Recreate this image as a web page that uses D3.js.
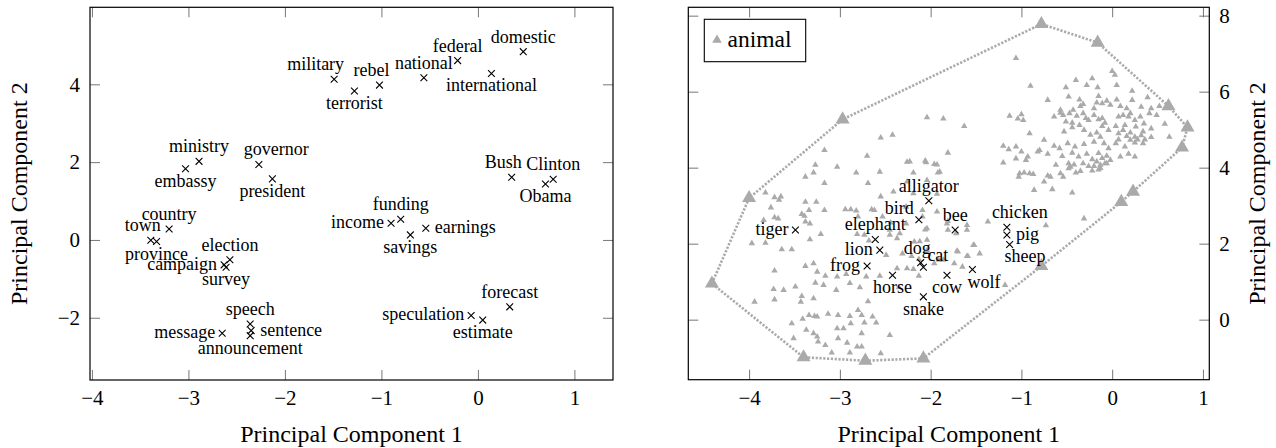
<!DOCTYPE html>
<html>
<head>
<meta charset="utf-8">
<script src="https://cdn.jsdelivr.net/npm/d3@7"></script>
<style>
  body { margin: 0; background: #fff; }
  svg text { font-family: "Liberation Serif", "DejaVu Serif", serif !important; }
</style>
</head>
<body>
<svg id="chart" width="1276" height="448" font-family="Liberation Serif, DejaVu Serif, serif"></svg>
<script>
// ---- left panel: words ----
const words = ["military", "terrorist", "rebel", "national", "federal", "international", "domestic",
  "ministry", "embassy", "governor", "president", "Bush", "Clinton", "Obama",
  "country", "town", "province", "election", "campaign", "survey",
  "funding", "income", "earnings", "savings",
  "speech", "sentence", "announcement", "message",
  "forecast", "speculation", "estimate"];
const wordPC1 = [-1.49, -1.28, -1.02, -0.56, -0.21, 0.14, 0.47,
  -2.89, -3.03, -2.27, -2.13, 0.35, 0.78, 0.70,
  -3.20, -3.39, -3.33, -2.57, -2.63, -2.61,
  -0.80, -0.90, -0.54, -0.70,
  -2.36, -2.35, -2.36, -2.65,
  0.33, -0.07, 0.05];
const wordPC2 = [4.13, 3.83, 3.98, 4.17, 4.61, 4.28, 4.84,
  2.02, 1.83, 1.94, 1.57, 1.61, 1.56, 1.44,
  0.28, -0.01, -0.04, -0.51, -0.64, -0.70,
  0.53, 0.43, 0.30, 0.13,
  -2.16, -2.33, -2.46, -2.40,
  -1.72, -1.94, -2.06];
const wordLabelPos = ["nw", "s", "nw", "n", "n", "s", "n",
  "n", "s", "ne", "s", "nw", "n", "s",
  "n", "nw", "s", "n", "w", "s",
  "n", "w", "e", "s",
  "n", "e", "s", "w",
  "n", "w", "s"];

// ---- right panel: animals ----
const animals = ["tiger", "alligator", "bird", "elephant", "bee", "lion", "dog", "cat",
  "frog", "horse", "cow", "wolf", "snake", "chicken", "pig", "sheep"];
const animalPC1 = [-3.49, -2.02, -2.13, -2.61, -1.73, -2.56, -2.11, -2.08,
  -2.70, -2.42, -1.82, -1.54, -2.08, -1.16, -1.16, -1.13];
const animalPC2 = [2.36, 3.13, 2.63, 2.11, 2.36, 1.83, 1.50, 1.38,
  1.41, 1.17, 1.17, 1.32, 0.60, 2.43, 2.23, 1.98];
const animalLabelPos = ["w", "n", "wnw", "n", "n", "w", "nw", "ene",
  "w", "s", "s", "se", "s", "ne", "e", "se"];

// vertices of the dotted hull (drawn as large triangles)
const hullPoints = [[-4.41, 0.95], [-4.00, 3.20], [-2.97, 5.27], [-0.78, 7.78], [-0.16, 7.29],
  [0.62, 5.62], [0.83, 5.06], [0.77, 4.53], [0.23, 3.37], [0.10, 3.10], [-0.78, 1.41],
  [-2.08, -1.02], [-2.72, -1.08], [-3.40, -0.99]];

// other words of the "animal" class (small grey triangles)
const animalCloud = [
  [-1.06, 6.88], [-0.90, 6.15], [0.00, 6.54], [0.03, 6.44], [-0.40, 6.30], [-0.22, 6.35], [-0.51, 6.11],
  [-0.28, 6.17], [-0.16, 6.11], [0.05, 6.17], [0.22, 6.02], [-0.48, 5.87], [-0.36, 5.79], [-0.15, 5.88],
  [0.05, 5.79], [0.22, 5.78], [0.39, 5.85], [-0.71, 5.78], [-0.57, 5.52], [-0.43, 5.52], [-0.35, 5.62],
  [-0.32, 5.67], [-0.20, 5.56], [-0.17, 5.71], [-0.11, 5.69], [-0.06, 5.76], [-0.02, 5.65], [0.09, 5.62],
  [0.16, 5.56], [0.32, 5.60], [0.43, 5.56], [0.52, 5.62], [0.49, 5.38], [0.58, 5.15], [-1.13, 5.36],
  [-1.04, 5.29], [-1.00, 5.40], [-0.98, 5.25], [-0.64, 5.34], [-0.57, 5.44], [-0.54, 5.38], [-0.47, 5.43],
  [-0.39, 5.36], [-0.32, 5.43], [-0.29, 5.30], [-0.26, 5.25], [-0.20, 5.38], [-0.15, 5.27], [-0.11, 5.30],
  [-0.08, 5.18], [0.07, 5.34], [0.12, 5.38], [0.18, 5.34], [0.20, 5.43], [0.25, 5.25], [0.31, 5.34],
  [0.35, 5.16], [0.41, 5.43], [-0.51, 5.21], [-0.44, 5.18], [-0.36, 5.12], [-0.11, 5.09], [0.04, 5.09],
  [0.14, 5.12], [0.26, 5.08], [0.34, 4.95], [0.43, 5.03], [-0.91, 4.90], [-0.53, 4.95], [-0.44, 5.06],
  [-0.31, 4.99], [-0.24, 4.86], [-0.17, 4.92], [-0.13, 4.81], [-0.04, 4.99], [0.07, 4.90], [0.12, 4.99],
  [0.16, 4.83], [0.20, 4.92], [0.25, 4.81], [0.32, 4.85], [0.36, 4.74], [0.43, 4.80], [0.20, 4.73],
  [0.25, 4.66], [0.28, 4.74], [0.34, 4.64], [0.63, 4.81], [-0.64, 4.57], [-0.58, 4.51], [-0.49, 4.64],
  [-0.41, 4.55], [-0.31, 4.62], [-0.20, 4.68], [-0.09, 4.64], [-0.04, 4.51], [0.04, 4.64], [0.07, 4.74],
  [0.14, 4.55], [-0.75, 4.73], [-0.82, 4.42], [-0.80, 4.46], [-1.20, 4.57], [-1.14, 4.48], [-1.06, 4.55],
  [-1.00, 4.42], [-1.20, 4.13], [-1.06, 4.24], [-0.93, 4.29], [-0.71, 4.36], [-0.55, 4.30], [-0.44, 4.39],
  [-0.37, 4.29], [-0.28, 4.36], [-0.22, 4.22], [-0.15, 4.38], [-0.11, 4.25], [-0.06, 4.31], [-0.02, 4.20],
  [0.09, 4.29], [0.18, 4.36], [0.25, 4.29], [-0.62, 4.07], [-0.48, 4.11], [-0.42, 4.08], [-0.32, 4.11],
  [-0.26, 4.04], [-0.17, 4.16], [-0.13, 4.07], [-0.08, 4.11], [-0.22, 3.92], [-0.15, 3.95], [-0.40, 3.87],
  [-0.35, 3.91], [-0.48, 3.98], [-0.57, 3.85], [-0.71, 3.79], [-1.02, 3.85], [-0.97, 3.87], [-0.91, 3.85],
  [-0.86, 3.41], [-0.75, 3.63], [-0.66, 3.43], [-0.44, 3.34], [-0.73, 2.48], [-0.31, 2.66], [-0.95, 4.20],
  [-1.52, 1.96], [-1.71, 1.81], [-1.03, 3.76], [-0.87, 3.83], [-0.68, 3.76], [-0.54, 3.76],
  [-0.46, 4.02], [-0.20, 4.04], [-0.13, 3.99], [-0.06, 4.11],
  [-2.04, 5.32], [-1.86, 5.29], [-1.63, 5.09], [-2.55, 4.79], [-2.42, 4.86], [-3.17, 4.46], [-2.70, 4.31],
  [-2.26, 4.15], [-2.06, 4.18], [-1.93, 4.08], [-1.81, 4.39], [-3.27, 4.07], [-3.03, 4.02], [-2.82, 3.87],
  [-2.56, 3.89], [-1.92, 3.87], [-3.38, 3.76], [-3.29, 3.87], [-3.17, 3.59], [-2.69, 3.59], [-2.26, 3.63],
  [-2.04, 3.67], [-3.72, 3.22], [-3.65, 3.24], [-3.67, 3.15], [-3.82, 3.34], [-3.76, 2.95], [-3.38, 3.10],
  [-3.34, 2.88], [-3.26, 3.10], [-3.17, 2.88], [-2.94, 2.90], [-2.88, 2.90], [-2.82, 2.87], [-2.65, 2.90],
  [-2.55, 3.24], [-2.27, 2.97], [-1.93, 3.31], [-2.62, 2.88], [-3.84, 2.62], [-3.72, 2.69], [-3.68, 2.66],
  [-3.42, 2.78], [-3.39, 2.73], [-3.38, 2.58], [-3.33, 2.53], [-2.80, 2.71], [-2.53, 2.71], [-2.44, 2.55],
  [-2.27, 2.53], [-2.09, 2.71], [-2.06, 2.37], [-1.82, 2.53], [-1.60, 2.36], [-1.37, 2.58], [-3.97, 2.01],
  [-3.82, 2.02], [-3.64, 1.85], [-3.53, 1.85], [-3.33, 2.11], [-3.21, 2.25], [-2.81, 2.25], [-2.73, 2.23],
  [-2.68, 2.08], [-2.45, 2.23], [-2.34, 2.27], [-2.18, 2.05], [-2.12, 2.06], [-2.04, 2.10], [-1.72, 2.27],
  [-1.53, 1.96], [-1.46, 1.74], [-3.38, 1.41], [-3.29, 1.48], [-3.25, 1.26], [-3.16, 1.15], [-3.03, 1.13],
  [-2.93, 1.20], [-2.49, 1.70], [-2.31, 1.74], [-2.21, 1.67], [-2.13, 1.59], [-1.96, 1.48], [-1.91, 1.57],
  [-1.74, 1.48], [-1.65, 1.39], [-1.60, 1.67], [-3.72, 1.29], [-3.73, 0.80], [-3.62, 0.78], [-3.49, 0.87],
  [-3.42, 0.62], [-3.43, 0.47], [-3.29, 0.56], [-3.27, 0.97], [-3.18, 0.91], [-3.04, 0.78], [-2.89, 0.96],
  [-2.78, 0.85], [-2.71, 1.13], [-2.56, 1.15], [-2.35, 0.85], [-2.13, 1.15], [-1.18, 0.91], [-3.94, 0.47],
  [-3.72, 0.53], [-3.41, 0.02], [-3.34, 0.12], [-3.28, 0.09], [-3.25, 0.08], [-3.13, 0.15], [-3.02, 0.12],
  [-2.89, 0.09], [-2.80, 0.25], [-2.76, 0.12], [-2.64, 0.08], [-3.53, -0.10], [-3.37, -0.27], [-3.29, -0.36],
  [-3.25, -0.45], [-3.03, -0.23], [-2.96, -0.23], [-2.88, -0.10], [-2.76, -0.36], [-2.73, -0.08], [-2.60, -0.08],
  [-2.45, -0.41], [-3.51, -0.49], [-3.24, -0.58], [-3.16, -0.67], [-3.09, -0.87], [-3.02, -0.49], [-2.92, -0.61],
  [-2.89, -0.87], [-2.81, -0.71], [-2.76, -0.71], [-2.55, -0.89], [-2.69, 0.48],
  [-2.19, 3.87], [-1.90, 3.89], [-2.05, 4.14], [-1.96, 4.09], [-2.23, 4.16], [-2.41, 3.37], [-2.19, 3.32],
  [-2.09, 2.88], [-1.93, 2.84], [-1.81, 2.59], [-1.60, 2.49], [-2.04, 2.40], [-2.45, 2.36], [-2.37, 2.14],
  [-1.81, 2.36], [-1.70, 1.79], [-1.59, 1.67], [-1.86, 1.57], [-2.04, 1.83], [-2.26, 1.35], [-2.19, 1.33],
  [-2.37, 1.35]
];

const legendLabel = "animal";
const xTicks = [-4, -3, -2, -1, 0, 1];
const leftYTicks = [-2, 0, 2, 4];
const rightYTicks = [0, 2, 4, 6, 8];
const xTitle = "Principal Component 1";
const yTitle = "Principal Component 2";

const grey = "#aaaaaa";
const serif = "Liberation Serif, DejaVu Serif, serif";
const labelOffset = {
  n:   {dx: 0,   dy: -9, anchor: "middle"},
  s:   {dx: 0,   dy: 18, anchor: "middle"},
  w:   {dx: -7,  dy: 5,  anchor: "end"},
  e:   {dx: 9,   dy: 5,  anchor: "start"},
  nw:  {dx: 10,  dy: -9, anchor: "end"},
  ne:  {dx: -15, dy: -9, anchor: "start"},
  se:  {dx: -5,  dy: 18, anchor: "start"},
  wnw: {dx: -5,  dy: -6, anchor: "end"},
  ene: {dx: 4,   dy: -6, anchor: "start"}
};

const svg = d3.select("#chart");
svg.append("rect").attr("width", 1276).attr("height", 448).attr("fill", "#fff");

function drawFrame(x, y, yTicks, ySide) {
  const g = svg.append("g");
  const x0 = x.range()[0], x1 = x.range()[1], y0 = y.range()[0], y1 = y.range()[1];

  const axes = [
    {axis: d3.axisBottom(x).tickValues(xTicks), tr: `translate(0,${y0})`, labels: true},
    {axis: d3.axisTop(x).tickValues(xTicks), tr: `translate(0,${y1})`, labels: false},
    {axis: d3.axisLeft(y).tickValues(yTicks), tr: `translate(${x0},0)`, labels: ySide === "left"},
    {axis: d3.axisRight(y).tickValues(yTicks), tr: `translate(${x1},0)`, labels: ySide === "right"}
  ];
  axes.forEach(a => {
    const ax = g.append("g")
      .attr("transform", a.tr)
      .call(a.axis.tickSize(-10).tickPadding(10).tickFormat(d => String(d).replace("-", "\u2212")));
    ax.attr("font-family", serif).attr("font-size", 21);
    ax.select(".domain").remove();
    ax.selectAll(".tick line").attr("stroke", "#777").attr("stroke-width", 1);
    ax.selectAll(".tick text")
      .attr("fill", "#000")
      .style("display", a.labels ? null : "none");
  });

  g.append("rect")
    .attr("x", x0).attr("y", y1)
    .attr("width", x1 - x0).attr("height", y0 - y1)
    .attr("fill", "none").attr("stroke", "#000").attr("stroke-width", 1.2);

  const cx = (x0 + x1) / 2, cy = (y0 + y1) / 2;
  g.append("text")
    .attr("x", cx).attr("y", 442)
    .attr("text-anchor", "middle").attr("font-size", 24)
    .text(xTitle);
  const tx = ySide === "left" ? 27 : 1265;
  g.append("text")
    .attr("transform", `translate(${tx},${cy}) rotate(-90)`)
    .attr("text-anchor", "middle").attr("font-size", 24)
    .text(yTitle);
}

function drawCrosses(x, y, names, xs, ys, pos) {
  const g = svg.append("g");
  names.forEach((name, i) => {
    const px = x(xs[i]), py = y(ys[i]);
    g.append("path")
      .attr("d", `M${px - 3.4},${py - 3.4}L${px + 3.4},${py + 3.4}M${px - 3.4},${py + 3.4}L${px + 3.4},${py - 3.4}`)
      .attr("stroke", "#000").attr("stroke-width", 1.1).attr("fill", "none");
    const o = labelOffset[pos[i]];
    g.append("text")
      .attr("x", px + o.dx).attr("y", py + o.dy)
      .attr("text-anchor", o.anchor)
      .attr("font-size", 18)
      .attr("fill", "#000")
      .text(name);
  });
}

// ---- left panel ----
const xL = d3.scaleLinear().domain([-4.02, 1.40]).range([90, 613]);
const yL = d3.scaleLinear().domain([-3.60, 5.98]).range([380, 7.3]);
drawFrame(xL, yL, leftYTicks, "left");
drawCrosses(xL, yL, words, wordPC1, wordPC2, wordLabelPos);

// ---- right panel ----
const xR = d3.scaleLinear().domain([-4.67, 1.07]).range([688.3, 1209.3]);
const yR = d3.scaleLinear().domain([-1.58, 8.22]).range([379.7, 7.3]);
drawFrame(xR, yR, rightYTicks, "right");

svg.append("path")
  .datum(hullPoints)
  .attr("d", d3.line().x(d => xR(d[0])).y(d => yR(d[1])).curve(d3.curveLinearClosed))
  .attr("fill", "none")
  .attr("stroke", grey)
  .attr("stroke-width", 2.6)
  .attr("stroke-dasharray", "2.2,1.6");

const smallTri = d3.symbol().type(d3.symbolTriangle).size(18);
svg.append("g").selectAll("path")
  .data(animalCloud)
  .join("path")
  .attr("d", smallTri)
  .attr("transform", d => `translate(${xR(d[0])},${yR(d[1])})`)
  .attr("fill", grey);

const bigTri = d3.symbol().type(d3.symbolTriangle).size(85);
svg.append("g").selectAll("path")
  .data(hullPoints)
  .join("path")
  .attr("d", bigTri)
  .attr("transform", d => `translate(${xR(d[0])},${yR(d[1])})`)
  .attr("fill", grey);

drawCrosses(xR, yR, animals, animalPC1, animalPC2, animalLabelPos);

// legend
const lg = svg.append("g");
lg.append("rect")
  .attr("x", 704.3).attr("y", 19.3).attr("width", 101.4).attr("height", 42.4)
  .attr("fill", "#fff").attr("stroke", "#000").attr("stroke-width", 1.1);
lg.append("path")
  .attr("d", d3.symbol().type(d3.symbolTriangle).size(40))
  .attr("transform", "translate(717,40)")
  .attr("fill", grey);
lg.append("text")
  .attr("x", 727.5).attr("y", 47)
  .attr("font-size", 23.5)
  .text(legendLabel);
</script>
</body>
</html>
